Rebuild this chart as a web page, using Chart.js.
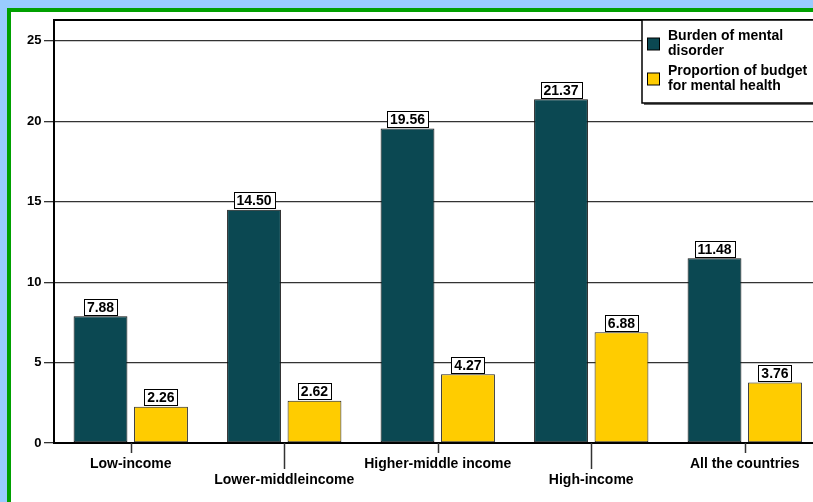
<!DOCTYPE html>
<html>
<head>
<meta charset="utf-8">
<script src="https://cdn.jsdelivr.net/npm/chart.js@4.4.0/dist/chart.umd.min.js"></script>
<style>
  html, body { margin: 0; padding: 0; width: 813px; height: 502px; overflow: hidden; background: #99ccff; }
  #frame { position: absolute; left: 7px; top: 8px; width: 900px; height: 600px; border: 4px solid #00a000; background: #fff; }
  #wrap { position: absolute; left: 0; top: 0; width: 840px; height: 502px; }
</style>
</head>
<body>
<div id="frame"></div>
<div id="wrap"><canvas id="c" width="840" height="502"></canvas></div>
<script>
// chart data
const categories = ['Low-income', 'Lower-middleincome', 'Higher-middle income', 'High-income', 'All the countries'];
const burden = [7.88, 14.50, 19.56, 21.37, 11.48];
const budget = [2.26, 2.62, 4.27, 6.88, 3.76];
const seriesNames = [['Burden of mental', 'disorder'], ['Proportion of budget', 'for mental health']];
const yTicks = [0, 5, 10, 15, 20, 25];

const FONT = '"Liberation Sans", Arial, Helvetica, sans-serif';
Chart.defaults.font.family = FONT;
Chart.defaults.color = '#000';

// staggered category labels: odd ones go on the second row
const xLabels = categories.map((c, i) => i % 2 ? ['', c] : c);

// value boxes above each bar
const valueBoxes = {
  id: 'valueBoxes',
  afterDatasetsDraw(chart) {
    const ctx = chart.ctx;
    ctx.save();
    ctx.font = 'bold 14px ' + FONT;
    ctx.textAlign = 'center';
    ctx.textBaseline = 'middle';
    chart.data.datasets.forEach((ds, di) => {
      chart.getDatasetMeta(di).data.forEach((bar, i) => {
        const txt = ds.data[i].toFixed(2);
        const w = Math.round(ctx.measureText(txt).width) + 6;
        const h = 16;
        const x = Math.round(bar.x - w / 2) + 0.5;
        const y = Math.round(bar.y - 1.5 - h) + 0.5;
        ctx.fillStyle = '#fff';
        ctx.fillRect(x, y, w, h);
        ctx.strokeStyle = '#000';
        ctx.lineWidth = 1;
        ctx.strokeRect(x, y, w, h);
        ctx.fillStyle = '#000';
        ctx.fillText(txt, bar.x, y + h / 2 + 1);
      });
    });
    ctx.restore();
  }
};

// plot frame top line, staggered x tick marks, legend box
const decorations = {
  id: 'decorations',
  afterDraw(chart) {
    const ctx = chart.ctx;
    const a = chart.chartArea;
    const xs = chart.scales.x;
    ctx.save();
    ctx.strokeStyle = '#000';
    ctx.lineWidth = 2;
    ctx.beginPath();
    ctx.moveTo(a.left - 1, a.top);
    ctx.lineTo(a.right, a.top);
    ctx.stroke();

    ctx.strokeStyle = '#333';
    ctx.lineWidth = 1.5;
    xs.ticks.forEach((t, i) => {
      const px = Math.round(xs.getPixelForTick(i)) + 0.5;
      ctx.beginPath();
      ctx.moveTo(px, a.bottom);
      ctx.lineTo(px, a.bottom + (i % 2 ? 26 : 10));
      ctx.stroke();
    });

    // legend
    const lx = 642, ly = a.top, lw = 250, lh = 83;
    ctx.fillStyle = '#666';
    ctx.fillRect(lx + 2, ly + 2, lw, lh);
    ctx.fillStyle = '#fff';
    ctx.fillRect(lx, ly, lw, lh);
    ctx.strokeStyle = '#000';
    ctx.lineWidth = 1.5;
    ctx.strokeRect(lx, ly, lw, lh);

    ctx.font = 'bold 14px ' + FONT;
    ctx.textAlign = 'left';
    ctx.textBaseline = 'middle';
    chart.data.datasets.forEach((ds, di) => {
      const top = ly + 16.5 + di * 35;
      const lines = seriesNames[di];
      ctx.fillStyle = ds.backgroundColor;
      ctx.fillRect(lx + 5.5, top + 1.5, 12, 12);
      ctx.strokeStyle = '#000';
      ctx.lineWidth = 1;
      ctx.strokeRect(lx + 5.5, top + 1.5, 12, 12);
      ctx.fillStyle = '#000';
      lines.forEach((ln, k) => ctx.fillText(ln, lx + 26, top + k * 15));
    });
    ctx.restore();
  }
};

new Chart(document.getElementById('c').getContext('2d'), {
  type: 'bar',
  data: {
    labels: xLabels,
    datasets: [
      { label: seriesNames[0].join(' '), data: burden, backgroundColor: '#0b4852', borderColor: '#111', borderWidth: 1, borderSkipped: false },
      { label: seriesNames[1].join(' '), data: budget, backgroundColor: '#ffcc00', borderColor: '#222', borderWidth: 1, borderSkipped: false }
    ]
  },
  options: {
    responsive: false,
    animation: false,
    events: [],
    layout: { padding: { left: 0, top: 20, right: 18.5, bottom: 0 } },
    categoryPercentage: 0.788,
    barPercentage: 0.89,
    plugins: { legend: { display: false }, tooltip: { enabled: false } },
    scales: {
      x: {
        grid: { offset: false, drawOnChartArea: false, drawTicks: true, tickLength: 10, tickColor: 'rgba(0,0,0,0)' },
        border: { color: '#000', width: 2 },
        ticks: { autoSkip: false, maxRotation: 0, padding: 3.5, font: { size: 14, weight: 'bold', lineHeight: 16 / 14 }, color: '#000' },
        afterFit(s) { s.height = 59; }
      },
      y: {
        min: 0,
        max: 26.3,
        afterBuildTicks(s) { s.ticks = yTicks.map(v => ({ value: v })); },
        grid: { color: '#333', lineWidth: 1.3, tickLength: 10, tickColor: '#333' },
        border: { color: '#000', width: 2 },
        ticks: { padding: 2.5, font: { size: 13, weight: 'bold' }, color: '#000' },
        afterFit(s) { s.width = 54; }
      }
    }
  },
  plugins: [valueBoxes, decorations]
});
</script>
</body>
</html>
